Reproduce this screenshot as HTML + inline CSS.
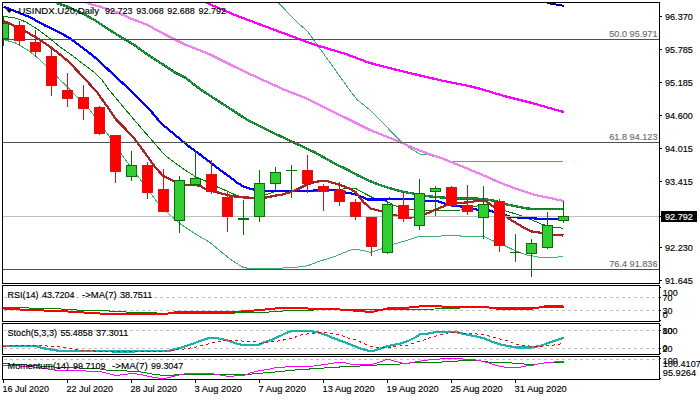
<!DOCTYPE html>
<html><head><meta charset="utf-8"><title>USINDX.U20 Daily</title>
<style>html,body{margin:0;padding:0;background:#fff;}body{width:700px;height:400px;overflow:hidden;}svg{display:block;}text{font-family:"Liberation Sans",sans-serif;font-size:9.4px;stroke-width:0.15px;}</style>
</head><body>
<svg width="700" height="400" viewBox="0 0 700 400">
<rect x="0" y="0" width="700" height="400" fill="#fff"/>
<defs>
<clipPath id="cm"><rect x="3" y="3" width="656" height="280"/></clipPath>
<clipPath id="c1"><rect x="3" y="286" width="656" height="35"/></clipPath>
<clipPath id="c2"><rect x="3" y="324" width="656" height="30"/></clipPath>
<clipPath id="c3"><rect x="3" y="357" width="656" height="22"/></clipPath>
<clipPath id="c3x"><rect x="660" y="357" width="40" height="22"/></clipPath>
</defs>
<g clip-path="url(#cm)">
<polyline points="278,2.5 298.75,23.75 307.5,31.25 320,48.75 335,69.5 349.5,90 357.5,100 370,110 402.5,143 413,150 420,154 427,154.5 437.5,157.5 450,161.2 563,161.5" fill="none" stroke="#3cb371" stroke-width="1" stroke-linejoin="bevel" shape-rendering="crispEdges" />
<polyline points="3.75,39.75 15,42.75 27,49.5 37.5,57.75 45,65 57,76.25 60,80 67.5,86.75 75,95 78,98 89.25,109.25 104.75,130 110,137.5 121.25,154 125,159.25 140,179 155,199.25 157.5,202.5 170,215 180,223.75 195,233.75 210,242.5 225,255 234,261.75 243,267.3 249,268.5 255,268.8 268.5,268.5 282,268.2 285,267.3 298.5,267 307.5,265.8 318,261.75 330,258 335,256.25 350,250.25 356,249.2 365,251 371,252.5 381.5,248.75 393.5,244.25 404,241.25 413,238.25 419,236.45 440,236.45 443.75,235 459.5,235 461,236.45 483.5,236.45 494,241.25 505,245.75 512.5,249.5 520,252.5 526,254.75 538,257 542.5,257.75 554.5,257.45 562.75,256.5" fill="none" stroke="#3cb371" stroke-width="1" stroke-linejoin="bevel" shape-rendering="crispEdges" />
<polyline points="206,2.5 235,15 260,24.5 285,33.75 310,43 320,46.25 345,53.75 370,63 395,69.5 420,75.5 445,81.25 470,86.25 480,88.75 505,96.25 530,102.5 563.75,112" fill="none" stroke="#ff00ff" stroke-width="2.25" stroke-linejoin="bevel" shape-rendering="crispEdges" />
<polyline points="86.25,3 97.5,6 105,8.25 115.5,11.75 131.5,18.75 147.5,25 163.5,33.75 175,39.5 185,44.5 210,54.5 235,67 260,78.75 285,90 307.5,98.75 320,105.5 345,117.5 370,130 395,140 420,150.75 445,159.5 470,169.7 485,176 500,182.75 515,188.3 535,195 550,198 563.5,201" fill="none" stroke="#ee82ee" stroke-width="2.25" stroke-linejoin="bevel" shape-rendering="crispEdges" />
<polyline points="56.25,3 67.5,6.75 82.5,13.5 94.5,20 108,29 120,36.5 135,45.5 141,50 153,58.25 165,65.75 175,72.5 185,77.5 201.25,90 222.5,103.75 247.5,120 272.5,132.5 295,143 315,152.5 335,163.75 347,169.5 357.5,175.2 369.5,181 380,185 389,188 398,190.5 404,192 413,193.5 425,195.8 435.5,197 446,197.75 458,198.5 470,198.5 482,198.8 489.5,200 494.5,200.8 505,204 515.5,206.25 527.5,208.5 535,209.25 550,209.25 563.5,209" fill="none" stroke="#0c7d28" stroke-width="2.4" stroke-linejoin="bevel" shape-rendering="crispEdges" />
<polyline points="56.25,3 67.5,6.75 82.5,13.5 94.5,20 108,29 120,36.5 135,45.5 141,50 153,58.25 165,65.75 175,72.5 185,77.5 201.25,90 222.5,103.75 247.5,120 272.5,132.5 295,143 315,152.5 335,163.75 347,169.5 357.5,175.2 369.5,181 380,185 389,188 398,190.5 404,192 413,193.5 425,195.8 435.5,197 446,197.75 458,198.5 470,198.5 482,198.8 489.5,200 494.5,200.8 505,204 515.5,206.25 527.5,208.5 535,209.25 550,209.25 563.5,209" fill="none" stroke="#34a058" stroke-width="1.3" stroke-dasharray="1.5,1.5" shape-rendering="crispEdges"/>
<polyline points="547,3 563.75,5.75" fill="none" stroke="#000080" stroke-width="2" stroke-linejoin="bevel" shape-rendering="crispEdges" />
<polyline points="3.75,16.5 15,18 25.5,21.75 37.5,29.25 49.5,38.2 60,47 72,55.25 82.5,63.5 94.5,72.5 102,80 109.5,90.5 117.5,100 125,109 134,119.5 143,130 152,140.3 158,147.5 165.5,155.6 174.5,162.5 185,170 195.5,176.75 204.5,180.5 218,187.25 230,192.4 237.5,195.75 245,197.4 255,197.3 266,194.8 275,191.5 308,191.5 318.5,191.8 330,190.5 345.5,188.75 356,188.75 365,193.7 374,198.2 384.5,200.75 389,202.25 393.5,205.25 398,206.75 410,209.5 425,210.3 446,210.3 461,210 473,206.75 485,204.5 494,205.5 505,210.75 512.5,213 520,215.25 527.5,218.25 535,221.25 541.75,224.25 553,227.25 563.5,228.3" fill="none" stroke="#008000" stroke-width="1" stroke-linejoin="bevel" shape-rendering="crispEdges" />
<polyline points="3.75,6.75 15,11.25 30,17.25 45,25.5 60,32.6 70.5,38.7 84,48.75 97.5,59.5 108,69.5 120,80.75 127.5,87.5 138,98 150,110 161,123.25 170,130.75 179,138.25 188,145.75 200,154.5 210.5,162.5 221,170.75 230,177 237.5,183 245,187.2 252.5,189.25 266,191.2 300,191.2 312,190.9 318,189.6 329,189.8 335,190.25 345.5,192.5 354.5,194 362,197 368,199.5 386,199.5 389,198.6 413,199.25 425,200.75 435.5,200.75 440,201.8 446,204.2 455,206 461,206.45 473,208.7 477.5,209.75 489.5,210.4 494.5,212 505,215.25 512.5,217.2 527.5,217.8 538,218.7 563.75,218.7" fill="none" stroke="#0000ff" stroke-width="2.25" stroke-linejoin="bevel" shape-rendering="crispEdges" />
<polyline points="3.75,21 13.5,25.5 25.5,31.5 37.5,38.25 49.5,46.5 60,54.5 67.5,60.8 75,68.4 82.5,76.25 90,84.5 97.5,92.75 102.5,100 108.5,108.25 116,119.5 125,128.5 134,138.25 140,146.2 147.5,156.5 155,167 162.5,175.25 170,179.3 174.5,181.25 185,184.7 191,184.7 200,185.75 206,189.5 218,192.5 230,195.7 239,197.2 252.5,197.8 266,197.5 275,195.7 282.5,194.5 290,192.25 297.5,189.25 305,185.5 312.5,182.8 320,181 327.5,181.25 335,183.4 342.5,185.75 350,188.75 356,192.5 363.5,202.25 371,208.7 380,210.8 393.5,215 398,215.75 410,217.5 414.5,217.25 425,214.25 435.5,209.75 446,205.25 458,203 470,202.25 477.5,200.75 485,200.75 489.5,203.75 494.5,207.5 505,215.25 509.5,219 515.5,222.75 523,227.25 532,231.5 541,232.8 553,234.75 563.5,235.5" fill="none" stroke="#a52626" stroke-width="2.25" stroke-linejoin="bevel" shape-rendering="crispEdges" />
<g shape-rendering="crispEdges">
<rect x="3" y="39" width="656" height="1" fill="#505050"/>
<rect x="3" y="142" width="656" height="1" fill="#505050"/>
<rect x="3" y="269" width="656" height="1" fill="#505050"/>
<rect x="3" y="216" width="656" height="1" fill="#c0c0c0"/>
</g>
<g shape-rendering="crispEdges">
<rect x="3" y="16" width="1" height="30" fill="#0b6b0b"/>
<rect x="-2" y="23" width="11" height="16" fill="#0b6b0b"/>
<rect x="-1" y="24" width="9" height="14" fill="#32cd32"/>
<rect x="19" y="21" width="1" height="25" fill="#d81414"/>
<rect x="14" y="25" width="11" height="16" fill="#d81414"/>
<rect x="15" y="26" width="9" height="14" fill="#ff0000"/>
<rect x="35" y="30" width="1" height="27" fill="#d81414"/>
<rect x="30" y="42" width="11" height="10" fill="#d81414"/>
<rect x="31" y="43" width="9" height="8" fill="#ff0000"/>
<rect x="51" y="46" width="1" height="50" fill="#d81414"/>
<rect x="46" y="56" width="11" height="30" fill="#d81414"/>
<rect x="47" y="57" width="9" height="28" fill="#ff0000"/>
<rect x="67" y="73" width="1" height="34" fill="#d81414"/>
<rect x="62" y="90" width="11" height="9" fill="#d81414"/>
<rect x="63" y="91" width="9" height="7" fill="#ff0000"/>
<rect x="83" y="85" width="1" height="35" fill="#d81414"/>
<rect x="78" y="97" width="11" height="12" fill="#d81414"/>
<rect x="79" y="98" width="9" height="10" fill="#ff0000"/>
<rect x="99" y="106" width="1" height="29" fill="#d81414"/>
<rect x="94" y="107" width="11" height="27" fill="#d81414"/>
<rect x="95" y="108" width="9" height="25" fill="#ff0000"/>
<rect x="115" y="135" width="1" height="48" fill="#d81414"/>
<rect x="110" y="135" width="11" height="37" fill="#d81414"/>
<rect x="111" y="136" width="9" height="35" fill="#ff0000"/>
<rect x="131" y="151" width="1" height="30" fill="#0b6b0b"/>
<rect x="126" y="165" width="11" height="12" fill="#0b6b0b"/>
<rect x="127" y="166" width="9" height="10" fill="#32cd32"/>
<rect x="147" y="162" width="1" height="37" fill="#d81414"/>
<rect x="142" y="165" width="11" height="28" fill="#d81414"/>
<rect x="143" y="166" width="9" height="26" fill="#ff0000"/>
<rect x="163" y="169" width="1" height="43" fill="#d81414"/>
<rect x="158" y="189" width="11" height="23" fill="#d81414"/>
<rect x="159" y="190" width="9" height="21" fill="#ff0000"/>
<rect x="179" y="176" width="1" height="57" fill="#0b6b0b"/>
<rect x="174" y="180" width="11" height="41" fill="#0b6b0b"/>
<rect x="175" y="181" width="9" height="39" fill="#32cd32"/>
<rect x="195" y="150" width="1" height="36" fill="#0b6b0b"/>
<rect x="190" y="178" width="11" height="7" fill="#0b6b0b"/>
<rect x="191" y="179" width="9" height="5" fill="#32cd32"/>
<rect x="211" y="160" width="1" height="34" fill="#d81414"/>
<rect x="206" y="174" width="11" height="18" fill="#d81414"/>
<rect x="207" y="175" width="9" height="16" fill="#ff0000"/>
<rect x="227" y="192" width="1" height="40" fill="#d81414"/>
<rect x="222" y="197" width="11" height="20" fill="#d81414"/>
<rect x="223" y="198" width="9" height="18" fill="#ff0000"/>
<rect x="243" y="200" width="1" height="35" fill="#0b6b0b"/>
<rect x="238" y="218" width="11" height="2" fill="#0b6b0b"/>
<rect x="259" y="170" width="1" height="52" fill="#0b6b0b"/>
<rect x="254" y="183" width="11" height="34" fill="#0b6b0b"/>
<rect x="255" y="184" width="9" height="32" fill="#32cd32"/>
<rect x="275" y="167" width="1" height="23" fill="#0b6b0b"/>
<rect x="270" y="172" width="11" height="12" fill="#0b6b0b"/>
<rect x="271" y="173" width="9" height="10" fill="#32cd32"/>
<rect x="291" y="165" width="1" height="33" fill="#0b6b0b"/>
<rect x="286" y="170" width="11" height="1" fill="#0b6b0b"/>
<rect x="307" y="155" width="1" height="38" fill="#d81414"/>
<rect x="302" y="170" width="11" height="14" fill="#d81414"/>
<rect x="303" y="171" width="9" height="12" fill="#ff0000"/>
<rect x="323" y="184" width="1" height="27" fill="#d81414"/>
<rect x="318" y="186" width="11" height="6" fill="#d81414"/>
<rect x="319" y="187" width="9" height="4" fill="#ff0000"/>
<rect x="339" y="182" width="1" height="24" fill="#d81414"/>
<rect x="334" y="190" width="11" height="12" fill="#d81414"/>
<rect x="335" y="191" width="9" height="10" fill="#ff0000"/>
<rect x="355" y="199" width="1" height="21" fill="#d81414"/>
<rect x="350" y="202" width="11" height="15" fill="#d81414"/>
<rect x="351" y="203" width="9" height="13" fill="#ff0000"/>
<rect x="371" y="217" width="1" height="39" fill="#d81414"/>
<rect x="366" y="217" width="11" height="30" fill="#d81414"/>
<rect x="367" y="218" width="9" height="28" fill="#ff0000"/>
<rect x="387" y="202" width="1" height="52" fill="#0b6b0b"/>
<rect x="382" y="204" width="11" height="49" fill="#0b6b0b"/>
<rect x="383" y="205" width="9" height="47" fill="#32cd32"/>
<rect x="403" y="192" width="1" height="30" fill="#d81414"/>
<rect x="398" y="205" width="11" height="14" fill="#d81414"/>
<rect x="399" y="206" width="9" height="12" fill="#ff0000"/>
<rect x="419" y="179" width="1" height="51" fill="#0b6b0b"/>
<rect x="414" y="193" width="11" height="33" fill="#0b6b0b"/>
<rect x="415" y="194" width="9" height="31" fill="#32cd32"/>
<rect x="435" y="186" width="1" height="30" fill="#0b6b0b"/>
<rect x="430" y="188" width="11" height="4" fill="#0b6b0b"/>
<rect x="431" y="189" width="9" height="2" fill="#32cd32"/>
<rect x="451" y="186" width="1" height="21" fill="#d81414"/>
<rect x="446" y="187" width="11" height="19" fill="#d81414"/>
<rect x="447" y="188" width="9" height="17" fill="#ff0000"/>
<rect x="467" y="185" width="1" height="30" fill="#d81414"/>
<rect x="462" y="205" width="11" height="7" fill="#d81414"/>
<rect x="463" y="206" width="9" height="5" fill="#ff0000"/>
<rect x="483" y="186" width="1" height="53" fill="#0b6b0b"/>
<rect x="478" y="204" width="11" height="14" fill="#0b6b0b"/>
<rect x="479" y="205" width="9" height="12" fill="#32cd32"/>
<rect x="499" y="199" width="1" height="53" fill="#d81414"/>
<rect x="494" y="201" width="11" height="45" fill="#d81414"/>
<rect x="495" y="202" width="9" height="43" fill="#ff0000"/>
<rect x="515" y="234" width="1" height="28" fill="#0b6b0b"/>
<rect x="510" y="252" width="11" height="1" fill="#0b6b0b"/>
<rect x="531" y="239" width="1" height="38" fill="#0b6b0b"/>
<rect x="526" y="243" width="11" height="11" fill="#0b6b0b"/>
<rect x="527" y="244" width="9" height="9" fill="#32cd32"/>
<rect x="547" y="212" width="1" height="37" fill="#0b6b0b"/>
<rect x="542" y="225" width="11" height="23" fill="#0b6b0b"/>
<rect x="543" y="226" width="9" height="21" fill="#32cd32"/>
<rect x="563" y="201" width="1" height="22" fill="#0b6b0b"/>
<rect x="558" y="216" width="11" height="5" fill="#0b6b0b"/>
<rect x="559" y="217" width="9" height="3" fill="#32cd32"/>
</g>
</g>
<g clip-path="url(#c1)">
<line x1="4" y1="297.5" x2="659" y2="297.5" stroke="#c0c0c0" stroke-width="1" stroke-dasharray="3,3" shape-rendering="crispEdges"/>
<line x1="4" y1="310.5" x2="659" y2="310.5" stroke="#c0c0c0" stroke-width="1" stroke-dasharray="3,3" shape-rendering="crispEdges"/>
<polyline points="3.5,308.5 19.5,309.5 35.5,310 51.5,311 67.5,311.5 83.5,312.5 99.5,313.5 115.5,314 131.5,313.8 147.5,313.6 163.5,314.3 179.5,311.5 195.5,311.5 211.5,312 227.5,312 243.5,311.4 259.5,310 275.5,308.5 291.5,308 307.5,308.5 323.5,309 339.5,309.5 355.5,310.7 371.5,312 387.5,308.5 403.5,308 419.5,306.5 435.5,306 451.5,307.2 467.5,306.6 483.5,306.8 499.5,309 515.5,309 531.5,308.8 547.5,306 563.5,305.6" fill="none" stroke="#ff0000" stroke-width="2" stroke-linejoin="bevel" shape-rendering="crispEdges" />
<polyline points="3,307.6 28,307.6 30,308.6 60,308.6 62,309.6 76,309.6 78,310.4 108,310.4 110,311.2 124,311.2 126,312 156,312 158,313.6 200,313.4 234,313.2 236,312.4 268,312.4 270,311.2 283,311.2 285,310 314,310 316,309.4 420,309.2 435,309 437,308 460,308 462,307.4 564,307.2" fill="none" stroke="#008000" stroke-width="1" stroke-linejoin="bevel" shape-rendering="crispEdges" />
</g>
<g clip-path="url(#c2)">
<line x1="4" y1="330.5" x2="659" y2="330.5" stroke="#c0c0c0" stroke-width="1" stroke-dasharray="3,3" shape-rendering="crispEdges"/>
<line x1="4" y1="348.5" x2="659" y2="348.5" stroke="#c0c0c0" stroke-width="1" stroke-dasharray="3,3" shape-rendering="crispEdges"/>
<polyline points="3,346 36,346 42,348 54,350 60,351 100,351.3 132,351.6 140,351 168,351 180,348 192,344 200,341 209,338 216,338 224,339.6 232,342 240,344.4 244,345 258,345 264,342.4 272,339.6 280,336 286,333 292,331 310,331 318,332.4 326,335 334,338.4 344,342 354,346 360,348.4 368,350.6 374,350.6 380,348.6 388,346 400,343.6 408,341 416,337 420,334.2 428,333.6 436,332 456,332 464,334 476,336.4 484,338.4 492,341.6 500,344.4 508,346 516,347.4 532,347.4 540,346 548,343 556,340.4 563.75,337.5" fill="none" stroke="#20b2aa" stroke-width="2.2" stroke-linejoin="bevel" shape-rendering="crispEdges" />
<polyline points="3,347 12,345.8 26,345.3 42,345.5 50,346.3 60,347 66,347.6 76,349.6 86,350.4 100,351.4 120,351.6 140,351.4 160,351.4 172,350.6 184,349 196,347 208,344 216,341.6 224,340.6 234,340.6 246,341.2 256,342 260,343.4 268,342.4 280,340.8 288,339 294,337.6 302,334.6 310,333.6 320,332.6 330,333 340,335 348,338 356,340 364,343.6 370,346 376,347.6 384,347.6 392,347 400,346 408,345 416,342.4 423,340.4 430,337.6 440,335 450,332.4 460,333 470,333.6 484,334.4 492,337 500,339 508,341 516,344 524,345.4 532,346.4 540,346.4 550,345.6 560,344 563.75,343" fill="none" stroke="#ff0000" stroke-width="1" stroke-linejoin="bevel" shape-rendering="crispEdges" stroke-dasharray="3,3"/>
</g>
<g clip-path="url(#c3)">
<line x1="4" y1="359.5" x2="659" y2="359.5" stroke="#c0c0c0" stroke-width="1" stroke-dasharray="3,3" shape-rendering="crispEdges"/>
<polyline points="3,363.6 20,364.6 40,366 60,367.4 80,368 100,369 108,370.4 120,370.6 140,371.8 152,374 160,375 174,375 186,374 220,374 228,375 248,374.4 256,373.6 268,372.6 280,371.6 288,370.6 300,369.6 316,368.6 330,367.6 346,366.6 360,366 374,365.4 384,364 400,364 410,363 420,362.8 428,362.6 442,362 458,361 466,360 476,360.4 488,362 506,362.6 520,363.6 528,364.4 538,364 544,363 563.75,362.6" fill="none" stroke="#008000" stroke-width="1" stroke-linejoin="bevel" shape-rendering="crispEdges" />
<polyline points="3,365 20,366 40,367.6 54,370 76,370.6 100,371.6 108,373.6 116,375.6 124,374.4 132,373.6 140,374.3 150,376.6 160,378.4 166,378.4 176,375.6 186,373.6 202,373.6 214,374 220,375 226,376 234,376 244,375.4 252,372.4 260,370.6 270,369 276,367.6 280,367.6 288,366.6 314,366 326,364.4 338,362.4 344,362.4 352,364.4 372,364.4 380,362 388,359 396,361.6 404,363.6 412,362.6 420,361.2 428,360 440,359 446,358.4 458,358.4 466,359.4 476,360 484,361.6 492,364 500,366.4 508,367.6 518,367.6 526,366 534,365 540,363.6 548,362.4 563.75,361.3" fill="none" stroke="#ff00ff" stroke-width="1" stroke-linejoin="bevel" shape-rendering="crispEdges" />
</g>
<g shape-rendering="crispEdges" fill="#000">
<rect x="2" y="2" width="658" height="1"/>
<rect x="2" y="283" width="658" height="1"/>
<rect x="2" y="2" width="1" height="282"/>
<rect x="659" y="2" width="1" height="282"/>
<rect x="2" y="285" width="658" height="1"/>
<rect x="2" y="321" width="658" height="1"/>
<rect x="2" y="285" width="1" height="37"/>
<rect x="659" y="285" width="1" height="37"/>
<rect x="2" y="323" width="658" height="1"/>
<rect x="2" y="354" width="658" height="1"/>
<rect x="2" y="323" width="1" height="32"/>
<rect x="659" y="323" width="1" height="32"/>
<rect x="2" y="356" width="658" height="1"/>
<rect x="2" y="379" width="658" height="1"/>
<rect x="2" y="356" width="1" height="24"/>
<rect x="659" y="356" width="1" height="24"/>
<rect x="660" y="16" width="2" height="1"/>
<rect x="660" y="49" width="2" height="1"/>
<rect x="660" y="82" width="2" height="1"/>
<rect x="660" y="115" width="2" height="1"/>
<rect x="660" y="148" width="2" height="1"/>
<rect x="660" y="181" width="2" height="1"/>
<rect x="660" y="216" width="2" height="1"/>
<rect x="660" y="247" width="2" height="1"/>
<rect x="660" y="280" width="2" height="1"/>
<rect x="660" y="287" width="1" height="1"/>
<rect x="660" y="297" width="1" height="1"/>
<rect x="660" y="310" width="1" height="1"/>
<rect x="660" y="320" width="1" height="1"/>
<rect x="660" y="325" width="1" height="1"/>
<rect x="660" y="330" width="1" height="1"/>
<rect x="660" y="348" width="1" height="1"/>
<rect x="660" y="353" width="1" height="1"/>
<rect x="660" y="358" width="1" height="1"/>
<rect x="660" y="378" width="1" height="1"/>
<rect x="3" y="380" width="1" height="3"/>
<rect x="67" y="380" width="1" height="3"/>
<rect x="131" y="380" width="1" height="3"/>
<rect x="195" y="380" width="1" height="3"/>
<rect x="259" y="380" width="1" height="3"/>
<rect x="323" y="380" width="1" height="3"/>
<rect x="387" y="380" width="1" height="3"/>
<rect x="451" y="380" width="1" height="3"/>
<rect x="515" y="380" width="1" height="3"/>
<rect x="661" y="211" width="36" height="11"/>
</g>
<text x="665" y="20" fill="#000" stroke="#000" textLength="27.8" lengthAdjust="spacingAndGlyphs">96.370</text>
<text x="665" y="53" fill="#000" stroke="#000" textLength="27.8" lengthAdjust="spacingAndGlyphs">95.785</text>
<text x="665" y="86" fill="#000" stroke="#000" textLength="27.8" lengthAdjust="spacingAndGlyphs">95.185</text>
<text x="665" y="119" fill="#000" stroke="#000" textLength="27.8" lengthAdjust="spacingAndGlyphs">94.600</text>
<text x="665" y="152" fill="#000" stroke="#000" textLength="27.8" lengthAdjust="spacingAndGlyphs">94.015</text>
<text x="665" y="185" fill="#000" stroke="#000" textLength="27.8" lengthAdjust="spacingAndGlyphs">93.415</text>
<text x="665" y="251" fill="#000" stroke="#000" textLength="27.8" lengthAdjust="spacingAndGlyphs">92.230</text>
<text x="665" y="284" fill="#000" stroke="#000" textLength="27.8" lengthAdjust="spacingAndGlyphs">91.645</text>
<text x="665" y="220" fill="#fff" stroke="#fff" textLength="27.8" lengthAdjust="spacingAndGlyphs">92.792</text>
<text x="609.3" y="36.7" fill="#6a6e78" stroke="#6a6e78" textLength="48.2" lengthAdjust="spacingAndGlyphs">50.0 95.971</text>
<text x="609.3" y="139.7" fill="#6a6e78" stroke="#6a6e78" textLength="48.2" lengthAdjust="spacingAndGlyphs">61.8 94.123</text>
<text x="609.3" y="266.6" fill="#6a6e78" stroke="#6a6e78" textLength="48.2" lengthAdjust="spacingAndGlyphs">76.4 91.836</text>
<path d="M5.8 9.2 L12.8 9.2 L9.3 13 Z" fill="#000"/>
<text x="18.4" y="14" fill="#000" stroke="#000" font-size="9.9" textLength="80.6" lengthAdjust="spacingAndGlyphs">USINDX.U20,Daily</text>
<text x="105.0" y="14" fill="#000" stroke="#000" textLength="27.5" lengthAdjust="spacingAndGlyphs">92.723</text>
<text x="136.15" y="14" fill="#000" stroke="#000" textLength="27.5" lengthAdjust="spacingAndGlyphs">93.068</text>
<text x="167.3" y="14" fill="#000" stroke="#000" textLength="27.5" lengthAdjust="spacingAndGlyphs">92.688</text>
<text x="198.45" y="14" fill="#000" stroke="#000" textLength="27.5" lengthAdjust="spacingAndGlyphs">92.792</text>
<text x="7.5" y="298.3" fill="#000" stroke="#000" font-size="9.9" textLength="31.1" lengthAdjust="spacingAndGlyphs">RSI(14)</text>
<text x="42" y="298.3" fill="#000" stroke="#000" textLength="32.6" lengthAdjust="spacingAndGlyphs">43.7204</text>
<text x="82" y="298.3" fill="#000" stroke="#000" font-size="9.9" textLength="34.75" lengthAdjust="spacingAndGlyphs">-&gt;MA(7)</text>
<text x="120" y="298.3" fill="#000" stroke="#000" textLength="32.2" lengthAdjust="spacingAndGlyphs">38.7511</text>
<text x="7.5" y="336" fill="#000" stroke="#000" font-size="9.9" textLength="49.5" lengthAdjust="spacingAndGlyphs">Stoch(5,3,3)</text>
<text x="60.4" y="336" fill="#000" stroke="#000" textLength="32.4" lengthAdjust="spacingAndGlyphs">55.4858</text>
<text x="96" y="336" fill="#000" stroke="#000" textLength="32.3" lengthAdjust="spacingAndGlyphs">37.3011</text>
<text x="7.6" y="368.7" fill="#000" stroke="#000" font-size="9.9" textLength="61.4" lengthAdjust="spacingAndGlyphs">Momentum(14)</text>
<text x="73" y="368.7" fill="#000" stroke="#000" textLength="32.4" lengthAdjust="spacingAndGlyphs">99.7109</text>
<text x="112" y="368.7" fill="#000" stroke="#000" font-size="9.9" textLength="35.7" lengthAdjust="spacingAndGlyphs">-&gt;MA(7)</text>
<text x="151" y="368.7" fill="#000" stroke="#000" textLength="32.2" lengthAdjust="spacingAndGlyphs">99.3047</text>
<text x="662.8" y="296" fill="#000" stroke="#000" textLength="15" lengthAdjust="spacingAndGlyphs">100</text>
<text x="662.5" y="301" fill="#000" stroke="#000" textLength="10" lengthAdjust="spacingAndGlyphs">70</text>
<text x="662.5" y="314" fill="#000" stroke="#000" textLength="10" lengthAdjust="spacingAndGlyphs">30</text>
<text x="662.8" y="318" fill="#000" stroke="#000" textLength="5" lengthAdjust="spacingAndGlyphs">0</text>
<text x="662.6" y="334" fill="#000" stroke="#000" textLength="15" lengthAdjust="spacingAndGlyphs">100</text>
<text x="662.5" y="334" fill="#000" stroke="#000" textLength="10" lengthAdjust="spacingAndGlyphs">80</text>
<text x="662.5" y="351.6" fill="#000" stroke="#000" textLength="10" lengthAdjust="spacingAndGlyphs">20</text>
<text x="662.6" y="351" fill="#000" stroke="#000" textLength="5" lengthAdjust="spacingAndGlyphs">0</text>
<g clip-path="url(#c3x)">
<text x="662.8" y="363.6" fill="#000" stroke="#000" textLength="15" lengthAdjust="spacingAndGlyphs">100</text>
</g>
<text x="662.8" y="367" fill="#000" stroke="#000" textLength="38" lengthAdjust="spacingAndGlyphs">100.4107</text>
<text x="662.75" y="376" fill="#000" stroke="#000" textLength="33.4" lengthAdjust="spacingAndGlyphs">95.9264</text>
<text x="2.6" y="391.8" fill="#000" stroke="#000" font-size="9.9" textLength="46.3" lengthAdjust="spacingAndGlyphs">16 Jul 2020</text>
<text x="66.6" y="391.8" fill="#000" stroke="#000" font-size="9.9" textLength="46.3" lengthAdjust="spacingAndGlyphs">22 Jul 2020</text>
<text x="130.6" y="391.8" fill="#000" stroke="#000" font-size="9.9" textLength="46.3" lengthAdjust="spacingAndGlyphs">28 Jul 2020</text>
<text x="194.6" y="391.8" fill="#000" stroke="#000" font-size="9.9" textLength="47.3" lengthAdjust="spacingAndGlyphs">3 Aug 2020</text>
<text x="258.6" y="391.8" fill="#000" stroke="#000" font-size="9.9" textLength="47.3" lengthAdjust="spacingAndGlyphs">7 Aug 2020</text>
<text x="322.6" y="391.8" fill="#000" stroke="#000" font-size="9.9" textLength="52.2" lengthAdjust="spacingAndGlyphs">13 Aug 2020</text>
<text x="386.6" y="391.8" fill="#000" stroke="#000" font-size="9.9" textLength="52.2" lengthAdjust="spacingAndGlyphs">19 Aug 2020</text>
<text x="450.6" y="391.8" fill="#000" stroke="#000" font-size="9.9" textLength="52.2" lengthAdjust="spacingAndGlyphs">25 Aug 2020</text>
<text x="514.6" y="391.8" fill="#000" stroke="#000" font-size="9.9" textLength="52.2" lengthAdjust="spacingAndGlyphs">31 Aug 2020</text>
</svg></body></html>
